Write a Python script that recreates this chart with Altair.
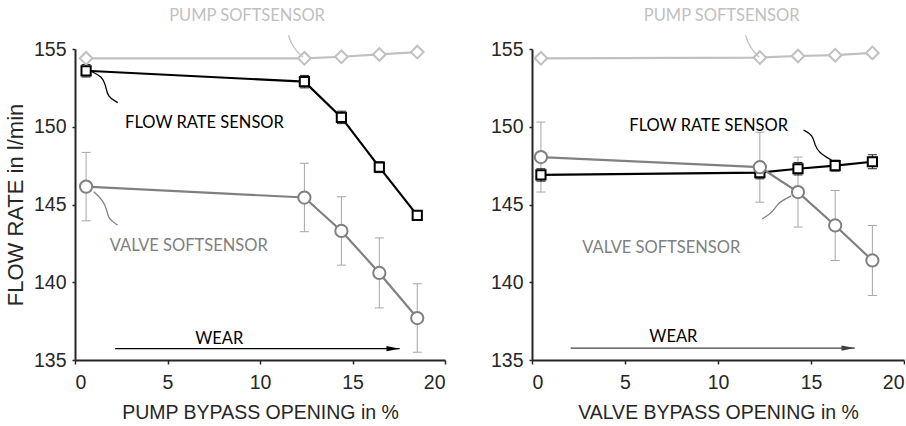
import altair as alt
import pandas as pd

# ---------------- data ----------------
x_pump_bypass = [0.6, 12.4, 14.4, 16.45, 18.5]
pump_soft_L = [154.4, 154.4, 154.5, 154.65, 154.8]
flow_L = [153.6, 152.9, 150.6, 147.4, 144.3]
flow_err_L = [0.4, 0.4, 0.4, 0.35, 0.3]
valve_L = [146.15, 145.45, 143.3, 140.6, 137.7]
valve_err_L = [2.2, 2.2, 2.2, 2.25, 2.2]

x_valve_bypass = [0.48, 12.25, 14.3, 16.3, 18.3]
pump_soft_R = [154.4, 154.45, 154.55, 154.6, 154.75]
flow_R = [146.9, 147.05, 147.3, 147.5, 147.75]
flow_err_R = [0.4, 0.4, 0.4, 0.35, 0.45]
valve_R = [148.05, 147.4, 145.8, 143.65, 141.4]
valve_err_R = [2.25, 2.25, 2.25, 2.25, 2.25]

x_ticks = [0, 5, 10, 15, 20]
y_ticks = [135, 140, 145, 150, 155]

# annotation labels: (text, x, y) per panel
labels_L = [("PUMP SOFTSENSOR", 9.3, 157.1), ("FLOW RATE SENSOR", 7.0, 150.25),
            ("VALVE SOFTSENSOR", 6.15, 142.3), ("WEAR", 7.8, 136.35)]
labels_R = [("PUMP SOFTSENSOR", 10.2, 157.1), ("FLOW RATE SENSOR", 9.5, 150.05),
            ("VALVE SOFTSENSOR", 6.95, 142.2), ("WEAR", 7.6, 136.5)]

# leader lines (data coordinates)
leader_pump_L = ([11.54, 11.65, 11.99, 12.32], [155.9, 155.45, 154.81, 154.49])
leader_flow_L = ([0.91, 1.47, 1.66, 1.75, 2.31], [153.54, 153.22, 152.68, 151.93, 151.55])
leader_valve_L = ([1.01, 1.46, 1.74, 1.79, 2.30], [145.82, 145.35, 144.65, 144.07, 143.68])
leader_pump_R = ([11.48, 11.59, 11.92, 12.20], [155.9, 155.45, 154.81, 154.49])
leader_flow_R = ([14.6, 15.1, 15.2, 15.43, 16.1], [149.79, 149.47, 148.83, 148.31, 147.86])
leader_valve_R = ([13.93, 13.2, 12.98, 12.37], [145.55, 145.1, 144.52, 144.07])

# wear arrows: (x start, x end, y)
arrow_L = (2.17, 17.55, 135.73)
arrow_R = (2.08, 17.35, 135.77)

# ---------------- styles ----------------
LINE_COL = {"PUMP SOFTSENSOR": "#c0c0c0", "FLOW RATE SENSOR": "#000000", "VALVE SOFTSENSOR": "#808080"}
ERR_COL = {"PUMP SOFTSENSOR": "#c0c0c0", "FLOW RATE SENSOR": "#222222", "VALVE SOFTSENSOR": "#a6a6a6"}
TEXT_COL = {"PUMP SOFTSENSOR": "#bfbfbf", "FLOW RATE SENSOR": "#000000", "VALVE SOFTSENSOR": "#7f7f7f", "WEAR": "#000000"}
SHAPE = {"PUMP SOFTSENSOR": "diamond", "FLOW RATE SENSOR": "square", "VALVE SOFTSENSOR": "circle"}
SIZE = {"PUMP SOFTSENSOR": 160, "FLOW RATE SENSOR": 85, "VALVE SOFTSENSOR": 150}
ORDER = {"PUMP SOFTSENSOR": 0, "FLOW RATE SENSOR": 1, "VALVE SOFTSENSOR": 2}

AX_COL = "#262626"
LBL_FONT = "Liberation Sans"
ANN_FONT = "Lato"


def build_series(xs, pump, flow, flow_err, valve, valve_err):
    rows = []
    for name, ys, errs in [("PUMP SOFTSENSOR", pump, [0] * len(xs)),
                           ("FLOW RATE SENSOR", flow, flow_err),
                           ("VALVE SOFTSENSOR", valve, valve_err)]:
        for xv, yv, ev in zip(xs, ys, errs):
            rows.append({"series": name, "x": xv, "y": yv, "err": ev,
                         "lcol": LINE_COL[name], "ecol": ERR_COL[name],
                         "shape": SHAPE[name], "size": SIZE[name], "ord": ORDER[name]})
    return pd.DataFrame(rows)


def panel(xs, pump, flow, flow_err, valve, valve_err, labels, leaders, arrow, arrow_col, xtitle, ytitle, w):
    df = build_series(xs, pump, flow, flow_err, valve, valve_err)
    x_axis = alt.Axis(values=x_ticks, title=xtitle, grid=False, domainColor=AX_COL, domainWidth=2,
                      tickColor=AX_COL, tickSize=4, tickWidth=1.5, labelFont=LBL_FONT, labelFontSize=19.5,
                      labelColor="#262626", labelPadding=9, titleFont=LBL_FONT, titleFontSize=19.5,
                      titleFontWeight="normal", titleColor="#262626", titlePadding=12)
    y_kwargs = dict(values=y_ticks, grid=False, domainColor=AX_COL, domainWidth=2,
                    tickColor=AX_COL, tickSize=3, tickWidth=1.5, labelFont=LBL_FONT, labelFontSize=19.5,
                    labelColor="#262626", labelPadding=6, titleFont=LBL_FONT, titleFontSize=22,
                    titleFontWeight="normal", titleColor="#262626", titlePadding=6)
    if ytitle:
        y_axis = alt.Axis(title=ytitle, **y_kwargs)
    else:
        y_axis = alt.Axis(title=None, **y_kwargs)
    X = alt.X("x:Q", scale=alt.Scale(domain=[0, 20], nice=False), axis=x_axis)
    Y = alt.Y("y:Q", scale=alt.Scale(domain=[135, 155], nice=False, zero=False), axis=y_axis)

    err_df = df[df["err"] > 0].copy()
    err_df["y2"] = err_df["y"] + err_df["err"]
    err_df["y"] = err_df["y"] - err_df["err"]
    caps = pd.concat([err_df.assign(y=err_df["y"]), err_df.assign(y=err_df["y2"])])

    rules = alt.Chart(err_df).mark_rule(strokeWidth=1).encode(
        x=X, y=Y, y2="y2:Q", stroke=alt.Stroke("ecol:N", scale=None))
    capm = alt.Chart(caps).mark_point(shape="M-1,0L1,0", size=81, strokeWidth=1, filled=False, opacity=1).encode(
        x=X, y=Y, stroke=alt.Stroke("ecol:N", scale=None))

    lines = alt.Chart(df).mark_line(strokeWidth=2.2).encode(
        x=X, y=Y, detail="series:N", stroke=alt.Stroke("lcol:N", scale=None), order="x:Q")

    pts = alt.Chart(df).mark_point(filled=True, fill="white", strokeWidth=2, opacity=1).encode(
        x=X, y=Y, stroke=alt.Stroke("lcol:N", scale=None), shape=alt.Shape("shape:N", scale=None),
        size=alt.Size("size:Q", scale=None), order="ord:Q")

    # leader lines
    lrows = []
    for name, (lx, ly) in leaders.items():
        for i, (a, b) in enumerate(zip(lx, ly)):
            lrows.append({"id": name, "i": i, "x": a, "y": b, "lcol": LINE_COL[name]})
    ldf = pd.DataFrame(lrows)
    lead = alt.Chart(ldf).mark_line(strokeWidth=1.3, interpolate="basis").encode(
        x=X, y=Y, detail="id:N", order="i:Q", stroke=alt.Stroke("lcol:N", scale=None))

    tdf = pd.DataFrame([{"t": t, "x": a, "y": b, "c": TEXT_COL[t]} for t, a, b in labels])
    txt = alt.Chart(tdf).mark_text(font=ANN_FONT, fontSize=16.5, align="center", baseline="middle").encode(
        x=X, y=Y, text="t:N", color=alt.Color("c:N", scale=None))

    adf = pd.DataFrame([{"x": arrow[0], "x2": arrow[1], "y": arrow[2]}])
    arule = alt.Chart(adf).mark_rule(strokeWidth=1.3, color=arrow_col).encode(x=X, x2="x2:Q", y=Y)
    hdf = pd.DataFrame([{"x": arrow[1], "y": arrow[2]}])
    ahead = alt.Chart(hdf).mark_point(shape="M-1,-0.2L0,0L-1,0.2Z", size=700, filled=True,
                                      color=arrow_col, opacity=1).encode(x=X, y=Y)

    return alt.layer(rules, capm, lines, pts, lead, txt, arule, ahead).properties(width=w, height=311)


left = panel(x_pump_bypass, pump_soft_L, flow_L, flow_err_L, valve_L, valve_err_L, labels_L,
             {"PUMP SOFTSENSOR": leader_pump_L, "FLOW RATE SENSOR": leader_flow_L, "VALVE SOFTSENSOR": leader_valve_L},
             arrow_L, "#000000", "PUMP BYPASS OPENING in %", "FLOW RATE in l/min", 370)
right = panel(x_valve_bypass, pump_soft_R, flow_R, flow_err_R, valve_R, valve_err_R, labels_R,
              {"PUMP SOFTSENSOR": leader_pump_R, "FLOW RATE SENSOR": leader_flow_R, "VALVE SOFTSENSOR": leader_valve_R},
              arrow_R, "#404040", "VALVE BYPASS OPENING in %", None, 372)

chart = alt.hconcat(left, right, spacing=44).properties(
    padding={"left": 4, "top": 8, "right": 0, "bottom": 0},
    background="white"
).configure_view(stroke=None)

chart.save("out.html", embed_options={"renderer": "svg", "actions": False})
